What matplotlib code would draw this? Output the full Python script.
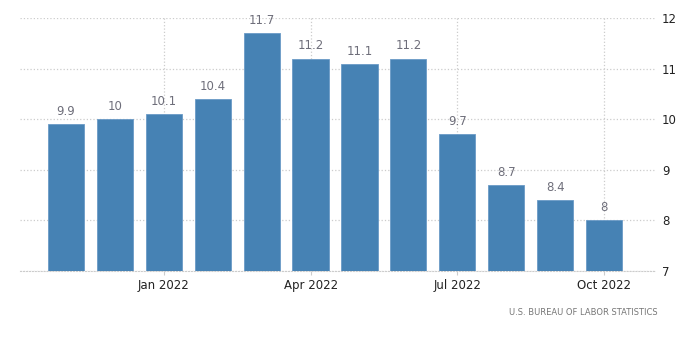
import matplotlib.pyplot as plt

months = ["Nov 2021", "Dec 2021", "Jan 2022", "Feb 2022", "Mar 2022", "Apr 2022",
          "May 2022", "Jun 2022", "Jul 2022", "Aug 2022", "Sep 2022", "Oct 2022"]
values = [9.9, 10, 10.1, 10.4, 11.7, 11.2, 11.1, 11.2, 9.7, 8.7, 8.4, 8]
value_labels = ["9.9", "10", "10.1", "10.4", "11.7", "11.2", "11.1", "11.2", "9.7", "8.7", "8.4", "8"]
tick_idx = [2, 5, 8, 11]
tick_labels = ["Jan 2022", "Apr 2022", "Jul 2022", "Oct 2022"]
yticks = [7, 8, 9, 10, 11, 12]

fig = plt.figure(figsize=(7, 3.61), dpi=100)
ax = fig.add_axes([0.0286, 0.249, 0.907, 0.701])

x = list(range(len(values)))
ax.bar(x, [v - 7 for v in values], bottom=7, width=0.74, color="#4682b4",
       edgecolor="#6a9ac6", linewidth=0.6, zorder=3)

for xi, v, lab in zip(x, values, value_labels):
    ax.text(xi, v + 0.12, lab, ha="center", va="bottom", fontsize=8.5, color="#6e6e7a")

ax.set_xlim(-0.94, 12.04)
ax.set_ylim(7, 12)
ax.set_xticks(tick_idx)
ax.set_xticklabels(tick_labels)
ax.set_yticks(yticks)
ax.yaxis.tick_right()
ax.tick_params(axis="y", length=0, pad=5, labelsize=8.5, labelcolor="#222222")
ax.tick_params(axis="x", length=3, color="#cccccc", pad=3, labelsize=8.5, labelcolor="#222222")

ax.grid(True, color="#cccccc", linestyle=":", linewidth=0.9, zorder=0)
for s in ["top", "left", "right"]:
    ax.spines[s].set_visible(False)
ax.spines["bottom"].set_color("#cccccc")
ax.spines["bottom"].set_linestyle(":")

fig.text(0.94, 0.135, "U.S. BUREAU OF LABOR STATISTICS", ha="right", va="center",
         fontsize=6, color="#777777")

plt.savefig("out.png", dpi=100)
